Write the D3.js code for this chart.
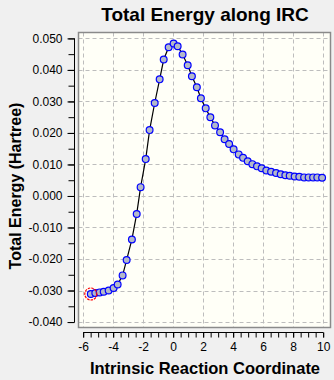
<!DOCTYPE html>
<html>
<head>
<meta charset="utf-8">
<script src="https://cdn.jsdelivr.net/npm/d3@7"></script>
<style>
  html, body { margin: 0; padding: 0; background: #f0f0f0; }
  svg { display: block; font-family: "Liberation Sans", Arial, sans-serif; }
</style>
</head>
<body>
<svg id="chart" width="334" height="380"></svg>
<script>
// ---- data ----
const coords = [-5.49, -5.19, -4.90, -4.63, -4.30, -3.97, -3.70, -3.37, -3.10, -2.75,
                -2.43, -2.17, -1.83, -1.57, -1.23, -0.90, -0.63, -0.30, 0.03, 0.30,
                0.63, 0.97, 1.25, 1.58, 1.85, 2.17, 2.48, 2.79, 3.13, 3.43,
                3.73, 4.03, 4.37, 4.66, 4.97, 5.28, 5.59, 5.90, 6.21, 6.53,
                6.86, 7.17, 7.48, 7.77, 8.10, 8.41, 8.73, 9.03, 9.33, 9.61, 9.93];
const energies = [-0.0311, -0.0308, -0.0306, -0.0304, -0.0300, -0.0292, -0.0281, -0.0252, -0.0203, -0.0138,
                  -0.0057, 0.0028, 0.0117, 0.0209, 0.0295, 0.0370, 0.0433, 0.0472, 0.0484, 0.0475,
                  0.0449, 0.0415, 0.0380, 0.0345, 0.0310, 0.0278, 0.0250, 0.0224, 0.0202, 0.0180,
                  0.0165, 0.0148, 0.0132, 0.0121, 0.0110, 0.0101, 0.0094, 0.0088, 0.0081, 0.0077,
                  0.0073, 0.0069, 0.0066, 0.0064, 0.0062, 0.0061, 0.0059, 0.0059, 0.0059, 0.0059, 0.0058];
const xTickValues = [-6, -4, -2, 0, 2, 4, 6, 8, 10];
const xMinorTicks = d3.range(-6, 10.01, 0.5);
const yTickValues = [-0.040, -0.030, -0.020, -0.010, 0.000, 0.010, 0.020, 0.030, 0.040, 0.050];
const yMinorTicks = d3.range(-0.040, 0.0501, 0.005);
const highlightIndex = 0;
const titleText = "Total Energy along IRC";
const xTitle = "Intrinsic Reaction Coordinate";
const yTitle = "Total Energy (Hartree)";

// ---- layout ----
const plotL = 78.5, plotR = 330.5, plotT = 32.5, plotB = 327.5;
const x = d3.scaleLinear().domain([-6.31, 10.49]).range([plotL, plotR]);
const y = d3.scaleLinear().domain([-0.04173, 0.05187]).range([plotB, plotT]);

const svg = d3.select("#chart");

// plot background
svg.append("rect").attr("x", plotL).attr("y", plotT)
  .attr("width", plotR - plotL).attr("height", plotB - plotT)
  .attr("fill", "#fffff7");

// gridlines
const grid = svg.append("g").attr("stroke", "#bdbdbd").attr("stroke-width", 1)
  .attr("stroke-dasharray", "4,3");
grid.selectAll("line.h").data(yTickValues).join("line")
  .attr("x1", plotL).attr("x2", plotR)
  .attr("y1", d => Math.round(y(d)) + 0.5).attr("y2", d => Math.round(y(d)) + 0.5);
grid.selectAll("line.v").data(xTickValues).join("line")
  .attr("y1", plotT).attr("y2", plotB)
  .attr("x1", d => Math.round(x(d)) + 0.5).attr("x2", d => Math.round(x(d)) + 0.5);

// border
svg.append("rect").attr("x", plotL).attr("y", plotT)
  .attr("width", plotR - plotL).attr("height", plotB - plotT)
  .attr("fill", "none").attr("stroke", "#8a8a8a").attr("stroke-width", 1.5);

// curve
const line = d3.line().x((d, i) => x(coords[i])).y(d => y(d));
svg.append("path").datum(energies).attr("d", line)
  .attr("fill", "none").attr("stroke", "#000").attr("stroke-width", 1.2);

// points
svg.append("g").selectAll("circle").data(energies).join("circle")
  .attr("cx", (d, i) => x(coords[i])).attr("cy", d => y(d)).attr("r", 3.4)
  .attr("fill", "#b3b9c9").attr("stroke", "#0000ff").attr("stroke-width", 1.2);

// highlighted point
svg.append("circle")
  .attr("cx", x(coords[highlightIndex])).attr("cy", y(energies[highlightIndex])).attr("r", 6)
  .attr("fill", "none").attr("stroke", "#ff0000").attr("stroke-width", 1.2)
  .attr("stroke-dasharray", "2.5,1");

const fmt = d => (Math.abs(d) < 1e-9 ? 0 : d).toFixed(3);

// y axis
const yAxisX = 74.5;
const gy = svg.append("g").attr("transform", `translate(${yAxisX},0)`);
gy.call(d3.axisLeft(y).tickValues(yMinorTicks).tickFormat("").tickSize(6).tickSizeOuter(0));
gy.call(g => g.select(".domain").remove());
const gyMajor = svg.append("g").attr("transform", `translate(${yAxisX},0)`);
gyMajor.call(d3.axisLeft(y).tickValues(yTickValues).tickFormat(fmt).tickSize(7).tickPadding(5).tickSizeOuter(0));
gyMajor.select(".domain").remove();
gyMajor.selectAll("text").attr("font-size", 12).attr("fill", "#000")
  .attr("font-family", "'Liberation Sans', Arial, sans-serif");
svg.append("line").attr("x1", yAxisX).attr("x2", yAxisX)
  .attr("y1", y(0.050)).attr("y2", y(-0.040)).attr("stroke", "#000");

// x axis
const xAxisY = 332.5;
const gx = svg.append("g").attr("transform", `translate(0,${xAxisY})`);
gx.call(d3.axisBottom(x).tickValues(xMinorTicks).tickFormat("").tickSize(5).tickSizeOuter(0));
gx.select(".domain").remove();
const gxMajor = svg.append("g").attr("transform", `translate(0,${xAxisY})`);
gxMajor.call(d3.axisBottom(x).tickValues(xTickValues).tickFormat(d => String(d)).tickSize(5).tickPadding(5).tickSizeOuter(0));
gxMajor.select(".domain").remove();
gxMajor.selectAll("text").attr("font-size", 12).attr("fill", "#000")
  .attr("font-family", "'Liberation Sans', Arial, sans-serif");
svg.append("line").attr("y1", xAxisY).attr("y2", xAxisY)
  .attr("x1", x(-6)).attr("x2", x(10)).attr("stroke", "#000");

// titles
svg.append("text").attr("x", 205).attr("y", 20.5).attr("text-anchor", "middle")
  .attr("font-size", 19).attr("font-weight", "bold").text(titleText);
svg.append("text").attr("x", 205).attr("y", 374).attr("text-anchor", "middle")
  .attr("font-size", 16.5).attr("font-weight", "bold").text(xTitle);
svg.append("text").attr("transform", "translate(21,186) rotate(-90)").attr("text-anchor", "middle")
  .attr("font-size", 16).attr("font-weight", "bold").text(yTitle);
</script>
</body>
</html>
